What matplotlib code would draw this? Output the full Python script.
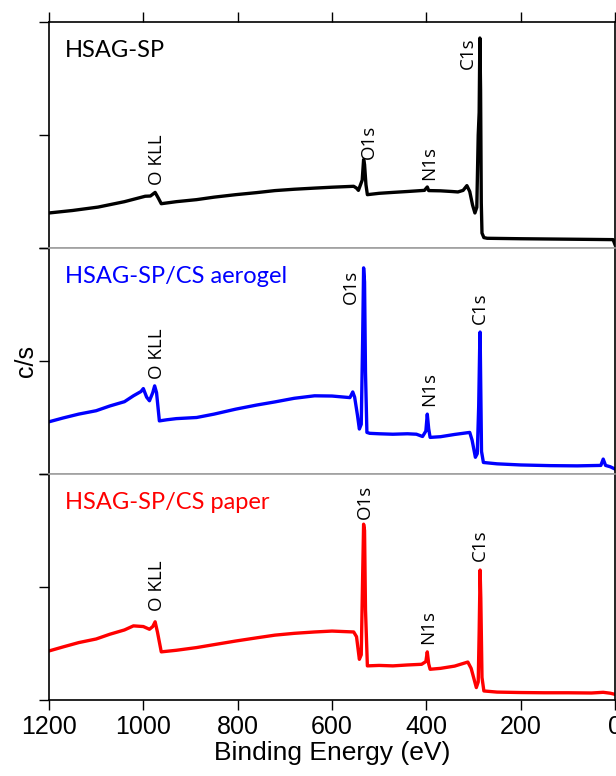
import matplotlib
matplotlib.use("Agg")
import matplotlib.pyplot as plt

# ---------------- data (binding energy in eV, intensity in arbitrary c/s units, 0-100 per panel)
e_sp = [1200, 1150, 1096, 1040, 996, 985, 975, 968, 962, 930, 887, 850, 804, 760, 721, 680, 637, 600,
        554, 548, 544, 536, 533, 531, 528, 525, 500, 471, 440, 404, 398, 395, 370, 346, 333, 322,
        314, 308, 302, 297, 293, 290, 288, 286.5, 285, 283.5, 282, 278, 271, 200, 150, 100, 50, 4, 0]
i_sp = [15.5, 16.6, 18.1, 20.5, 22.9, 23.0, 24.6, 22.0, 19.6, 20.5, 21.4, 22.5, 23.6, 24.5, 25.4, 26.0,
        26.5, 26.9, 27.3, 26.5, 25.5, 30.0, 39.1, 37.0, 28.0, 23.6, 24.2, 24.6, 25.0, 25.5, 27.0, 25.4,
        25.3, 25.0, 24.8, 25.5, 27.6, 25.0, 19.0, 15.5, 18.0, 50.0, 60.0, 92.9, 70.0, 20.0, 6.6, 4.6,
        4.3, 4.1, 4.0, 3.9, 3.8, 3.7, 1.5]

e_ae = [1200, 1170, 1137, 1100, 1071, 1040, 1021, 1005, 1000, 993, 987, 980, 976, 972, 966, 950, 930,
        887, 850, 804, 760, 721, 680, 637, 600, 562, 556, 552, 546, 542, 538, 535, 533, 531, 529,
        526, 520, 500, 471, 440, 421, 408, 401, 398, 395, 392, 370, 340, 308, 303, 296, 292, 289,
        287, 286, 285, 283, 279, 250, 200, 137, 80, 30, 25, 20, 10, 0]
i_ae = [23.1, 24.8, 26.5, 28.0, 30.1, 32.0, 34.6, 36.5, 37.8, 34.0, 32.4, 36.0, 39.0, 36.0, 23.5,
        24.0, 24.5, 25.0, 26.5, 28.7, 30.5, 31.9, 33.5, 34.6, 34.5, 33.8, 36.3, 34.0, 26.0, 19.9,
        22.0, 60.0, 91.2, 85.0, 45.0, 18.4, 18.0, 17.8, 17.6, 17.8, 17.6, 16.6, 19.0, 26.5, 20.0,
        16.2, 16.5, 17.5, 18.4, 15.0, 7.4, 9.0, 30.0, 55.0, 62.8, 45.0, 10.0, 5.1, 4.5, 4.0, 3.7,
        3.6, 3.8, 6.6, 3.8, 3.2, 2.2]

e_pa = [1200, 1170, 1137, 1100, 1071, 1040, 1021, 1000, 987, 980, 975, 970, 962, 930, 887, 850, 804,
        760, 721, 680, 637, 600, 554, 548, 542, 538, 535, 533, 531, 529, 525, 500, 471, 440, 410,
        401, 398, 395, 392, 370, 340, 312, 305, 294, 290, 288, 286, 284.5, 282, 278, 250, 200, 150,
        100, 50, 25, 10, 0]
i_pa = [21.7, 23.5, 25.4, 27.0, 29.1, 31.0, 32.8, 32.5, 31.3, 32.5, 34.6, 30.0, 21.3, 22.0, 23.2,
        24.5, 26.1, 27.5, 28.7, 29.5, 30.1, 30.5, 30.1, 28.0, 18.0, 20.0, 55.0, 77.8, 75.0, 40.0,
        15.1, 15.3, 15.1, 15.5, 15.8, 17.0, 21.3, 16.0, 13.6, 14.0, 15.0, 16.8, 14.0, 5.5, 8.0,
        30.0, 57.5, 45.0, 10.0, 4.0, 3.5, 3.3, 3.2, 3.2, 3.1, 3.4, 3.0, 2.5]

titles = ["HSAG-SP", "HSAG-SP/CS aerogel", "HSAG-SP/CS paper"]
colors = ["#000000", "#0000ff", "#ff0000"]
energies = [e_sp, e_ae, e_pa]
intensities = [i_sp, i_ae, i_pa]

peak_names = ["O KLL", "O1s", "N1s", "C1s"]
peak_label_e = [
    [971, 521, 394, 312],
    [972, 560, 394, 286],
    [971, 531, 396, 286],
]
peak_label_y = [
    [28.0, 39.5, 30.0, 79.0],
    [41.9, 75.0, 30.1, 66.2],
    [39.4, 80.0, 24.7, 61.6],
]

xticks = [1200, 1000, 800, 600, 400, 200, 0]

# ---------------- figure
fig = plt.figure(figsize=(6.16, 7.76), dpi=100)
left, right = 49 / 616, 615 / 616
top, bottom = 1 - 22 / 776, 1 - 700 / 776
h = (top - bottom) / 3
gray = "#a0a0a0"
axes = []
for k in range(3):
    ax = fig.add_axes([left, top - (k + 1) * h, right - left, h])
    axes.append(ax)
    ax.plot(energies[k], intensities[k], color=colors[k], lw=2.4, solid_joinstyle="round")
    ax.set_xlim(1200, 0)
    ax.set_ylim(0, 100)
    ax.set_yticks([0, 50, 100])
    ax.set_yticklabels([])
    ax.tick_params(axis="y", direction="out", length=7, width=1.0, left=True, right=False)
    for s in ["left", "right"]:
        ax.spines[s].set_color("black")
        ax.spines[s].set_linewidth(1.2)
    ax.spines["top"].set_color("black" if k == 0 else gray)
    ax.spines["bottom"].set_color("black" if k == 2 else gray)
    ax.spines["top"].set_linewidth(1.2)
    ax.spines["bottom"].set_linewidth(1.2)
    ax.set_xticks(xticks)
    if k == 0:
        ax.tick_params(axis="x", top=True, bottom=False, labeltop=False, labelbottom=False,
                       direction="out", length=7, width=1.0)
    elif k == 2:
        ax.tick_params(axis="x", top=False, bottom=True, labelbottom=True,
                       direction="out", length=7, width=1.0, labelsize=18, pad=4)
        for lab in ax.get_xticklabels():
            lab.set_fontfamily("Liberation Sans")
        ax.set_xlabel("Binding Energy (eV)", fontsize=19, family="Liberation Sans", labelpad=1)
    else:
        ax.tick_params(axis="x", top=False, bottom=False, labelbottom=False)

    ax.text(0.028, 0.875, titles[k], transform=ax.transAxes, color=colors[k],
            fontsize=17, family="Lato", ha="left", va="center")
    for name, xe, ye in zip(peak_names, peak_label_e[k], peak_label_y[k]):
        ax.text(xe, ye, name, rotation=90, ha="center", va="bottom",
                fontsize=13.5, family="Open Sans", color="black")

fig.text(0.042, (top + bottom) / 2, "c/s", rotation=90, ha="center", va="center",
         fontsize=18, family="Liberation Sans")

fig.savefig("out.png", dpi=100)
